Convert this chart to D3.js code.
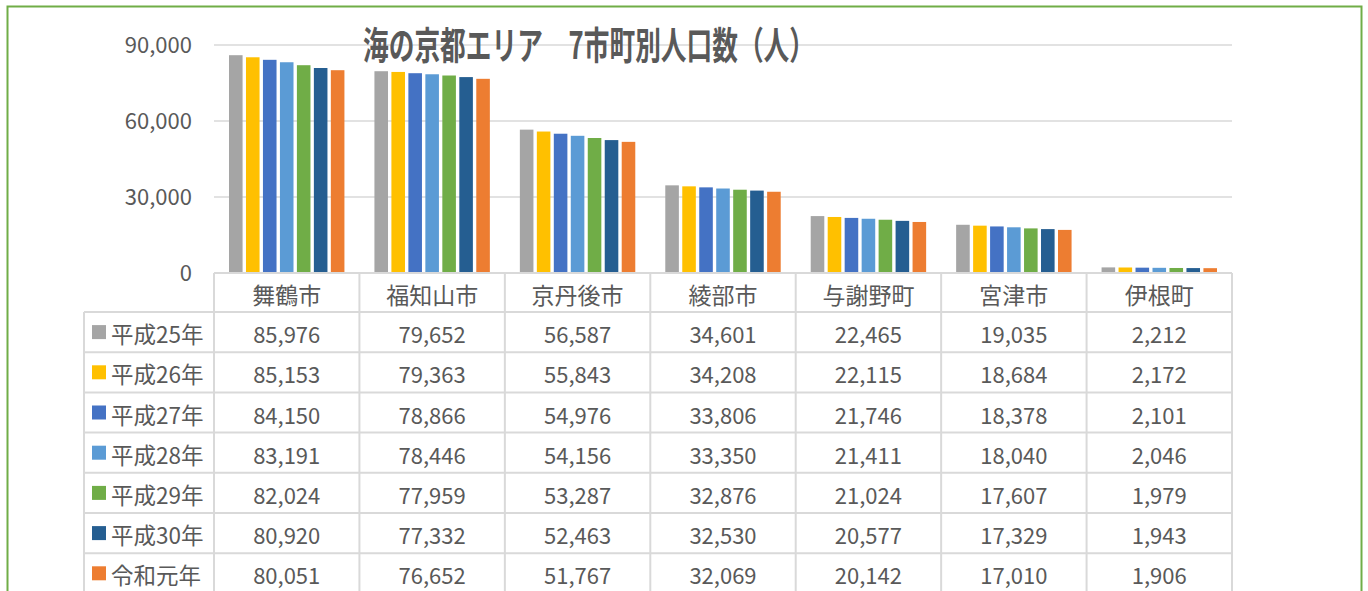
<!DOCTYPE html>
<html>
<head>
<meta charset="utf-8">
<script src="https://cdn.jsdelivr.net/npm/d3@7"></script>
<style>
  html, body { margin: 0; padding: 0; background: #fff; }
  svg text { font-family: "Noto Sans CJK JP", "Noto Sans", sans-serif; fill: #595959; }
</style>
</head>
<body>
<script>
const cities = ["舞鶴市", "福知山市", "京丹後市", "綾部市", "与謝野町", "宮津市", "伊根町"];
const years = ["平成25年", "平成26年", "平成27年", "平成28年", "平成29年", "平成30年", "令和元年"];
const colors = ["#A5A5A5", "#FFC000", "#4472C4", "#5B9BD5", "#70AD47", "#255E91", "#ED7D31"];
const h25 = [85976, 79652, 56587, 34601, 22465, 19035, 2212];
const h26 = [85153, 79363, 55843, 34208, 22115, 18684, 2172];
const h27 = [84150, 78866, 54976, 33806, 21746, 18378, 2101];
const h28 = [83191, 78446, 54156, 33350, 21411, 18040, 2046];
const h29 = [82024, 77959, 53287, 32876, 21024, 17607, 1979];
const h30 = [80920, 77332, 52463, 32530, 20577, 17329, 1943];
const r1  = [80051, 76652, 51767, 32069, 20142, 17010, 1906];
const yTicks = [0, 30000, 60000, 90000];
const title = "海の京都エリア　7市町別人口数（人）";

const series = [h25, h26, h27, h28, h29, h30, r1].map((vals, i) => ({
    name: years[i], color: colors[i], values: vals
}));

const W = 1368, H = 591;
const plotLeft = 214, plotRight = 1232, plotTop = 45, plotBottom = 273;
const headerH = 39, rowH = 40.2, legendLeft = 84;

const svg = d3.select("body").append("svg")
    .attr("width", W).attr("height", H);

// outer frame
svg.append("rect")
    .attr("x", 7.5).attr("y", 6.5)
    .attr("width", 1354).attr("height", 620)
    .attr("fill", "none").attr("stroke", "#70AD47").attr("stroke-width", 2);

let x0 = d3.scaleBand().domain(cities).range([plotLeft, plotRight]);
let x1 = d3.scaleBand().domain(years)
    .range([15, x0.bandwidth() - 15]).paddingInner(0.2);
let y = d3.scaleLinear().domain([0, 90000]).range([plotBottom, plotTop]);

// gridlines
svg.append("g").selectAll("line")
    .data(yTicks.filter(d => d > 0))
    .enter().append("line")
    .attr("x1", plotLeft).attr("x2", plotRight)
    .attr("y1", d => y(d)).attr("y2", d => y(d))
    .attr("stroke", "#D9D9D9").attr("stroke-width", 1.5);

// y axis labels
let yAxis = d3.axisLeft(y).tickValues(yTicks).tickSize(0).tickPadding(0)
    .tickFormat(d3.format(","));
svg.append("g")
    .attr("transform", `translate(192,0)`)
    .call(yAxis)
    .call(g => g.select(".domain").remove())
    .selectAll("text")
    .attr("font-size", 22)
    .attr("fill", "#595959")
    .attr("style", "font-family: 'Noto Sans CJK JP', sans-serif");

// bars
svg.append("g").selectAll("g")
    .data(series)
    .enter().append("g")
    .attr("fill", d => d.color)
    .selectAll("rect")
    .data(d => d.values.map((v, i) => ({ v: v, city: cities[i], year: d.name })))
    .enter().append("rect")
    .attr("x", d => x0(d.city) + x1(d.year))
    .attr("width", x1.bandwidth())
    .attr("y", d => y(d.v))
    .attr("height", d => y(0) - y(d.v));

// title
svg.append("text")
    .attr("x", 363).attr("y", 42)
    .attr("dominant-baseline", "central")
    .attr("font-size", 38)
    .attr("font-weight", 700)
    .attr("textLength", 452)
    .attr("lengthAdjust", "spacingAndGlyphs")
    .text(title);

// data table
const tbl = svg.append("g");
const gridColor = "#D9D9D9";
const tableBottom = plotBottom + headerH + rowH * years.length;

// header cells
tbl.selectAll("text.head")
    .data(cities)
    .enter().append("text")
    .attr("class", "head")
    .attr("x", d => x0(d) + x0.bandwidth() / 2)
    .attr("y", plotBottom + headerH / 2 + 1)
    .attr("text-anchor", "middle")
    .attr("dominant-baseline", "central")
    .attr("font-size", 23)
    .text(d => d);

// horizontal lines
let hLines = [plotBottom].concat(d3.range(years.length + 1).map(i => plotBottom + headerH + i * rowH));
tbl.selectAll("line.h")
    .data(hLines)
    .enter().append("line")
    .attr("x1", (d, i) => i === 0 ? plotLeft : legendLeft)
    .attr("x2", plotRight)
    .attr("y1", d => d).attr("y2", d => d)
    .attr("stroke", gridColor).attr("stroke-width", 2);

// vertical lines
let vLines = cities.map(c => x0(c)).concat([plotRight]);
tbl.selectAll("line.v")
    .data(vLines)
    .enter().append("line")
    .attr("x1", d => d).attr("x2", d => d)
    .attr("y1", plotBottom).attr("y2", tableBottom)
    .attr("stroke", gridColor).attr("stroke-width", 2);
tbl.append("line")
    .attr("x1", legendLeft).attr("x2", legendLeft)
    .attr("y1", plotBottom + headerH).attr("y2", tableBottom)
    .attr("stroke", gridColor).attr("stroke-width", 2);

// rows
let rows = tbl.selectAll("g.row")
    .data(series)
    .enter().append("g")
    .attr("transform", (d, i) => `translate(0,${plotBottom + headerH + i * rowH + rowH / 2})`);

rows.append("rect")
    .attr("x", 92).attr("y", -7)
    .attr("width", 14).attr("height", 14)
    .attr("fill", d => d.color);

rows.append("text")
    .attr("x", 111).attr("y", 1)
    .attr("dominant-baseline", "central")
    .attr("font-size", 22.5)
    .text(d => d.name);

rows.selectAll("text.val")
    .data(d => d.values.map((v, i) => ({ v: v, city: cities[i] })))
    .enter().append("text")
    .attr("class", "val")
    .attr("x", d => x0(d.city) + x0.bandwidth() / 2)
    .attr("y", 1)
    .attr("text-anchor", "middle")
    .attr("dominant-baseline", "central")
    .attr("font-size", 22)
    .text(d => d3.format(",")(d.v));
</script>
</body>
</html>
